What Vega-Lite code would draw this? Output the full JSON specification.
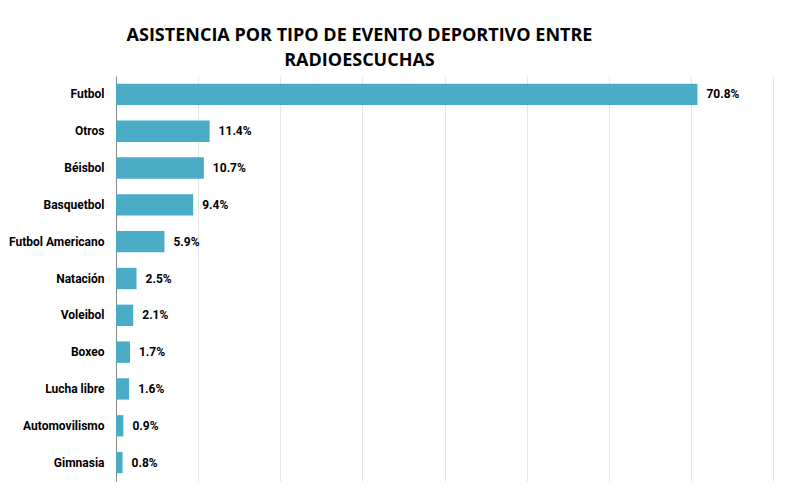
{
  "$schema": "https://vega.github.io/schema/vega-lite/v6.json",
  "autosize": "none",
  "width": 657,
  "height": 405,
  "padding": {"left": 116, "top": 76, "right": 13, "bottom": 9},
  "background": "white",
  "title": {
    "text": ["ASISTENCIA POR TIPO DE EVENTO DEPORTIVO ENTRE", "RADIOESCUCHAS"],
    "anchor": "middle",
    "dx": -85,
    "offset": 6,
    "fontSize": 18,
    "fontWeight": "bold",
    "font": "Open Sans, sans-serif",
    "lineHeight": 25,
    "color": "#000000"
  },
  "data": {
    "values": [
      {"evento": "Futbol", "pct": 0.708},
      {"evento": "Otros", "pct": 0.114},
      {"evento": "Béisbol", "pct": 0.107},
      {"evento": "Basquetbol", "pct": 0.094},
      {"evento": "Futbol Americano", "pct": 0.059},
      {"evento": "Natación", "pct": 0.025},
      {"evento": "Voleibol", "pct": 0.021},
      {"evento": "Boxeo", "pct": 0.017},
      {"evento": "Lucha libre", "pct": 0.016},
      {"evento": "Automovilismo", "pct": 0.009},
      {"evento": "Gimnasia", "pct": 0.008}
    ]
  },
  "encoding": {
    "y": {
      "field": "evento",
      "type": "nominal",
      "sort": "-x",
      "title": null,
      "scale": {"paddingInner": 0.42, "paddingOuter": 0.21},
      "axis": {
        "ticks": false,
        "domain": true,
        "domainColor": "#888888",
        "labelFont": "Roboto, sans-serif",
        "labelFontSize": 12,
        "labelFontWeight": "bold",
        "labelColor": "#000000",
        "labelPadding": 12
      }
    },
    "x": {
      "field": "pct",
      "type": "quantitative",
      "scale": {"domain": [0, 0.8], "nice": false},
      "axis": {
        "title": null,
        "labels": false,
        "ticks": false,
        "domain": false,
        "grid": true,
        "gridColor": "#e6e6e6",
        "tickCount": 8
      }
    }
  },
  "layer": [
    {"mark": {"type": "bar", "color": "#4BACC6"}},
    {
      "mark": {
        "type": "text",
        "align": "left",
        "dx": 9,
        "font": "Roboto, sans-serif",
        "fontSize": 12,
        "fontWeight": "bold",
        "color": "#000000"
      },
      "encoding": {"text": {"field": "pct", "type": "quantitative", "format": ".1%"}}
    }
  ],
  "config": {"view": {"stroke": null}}
}
